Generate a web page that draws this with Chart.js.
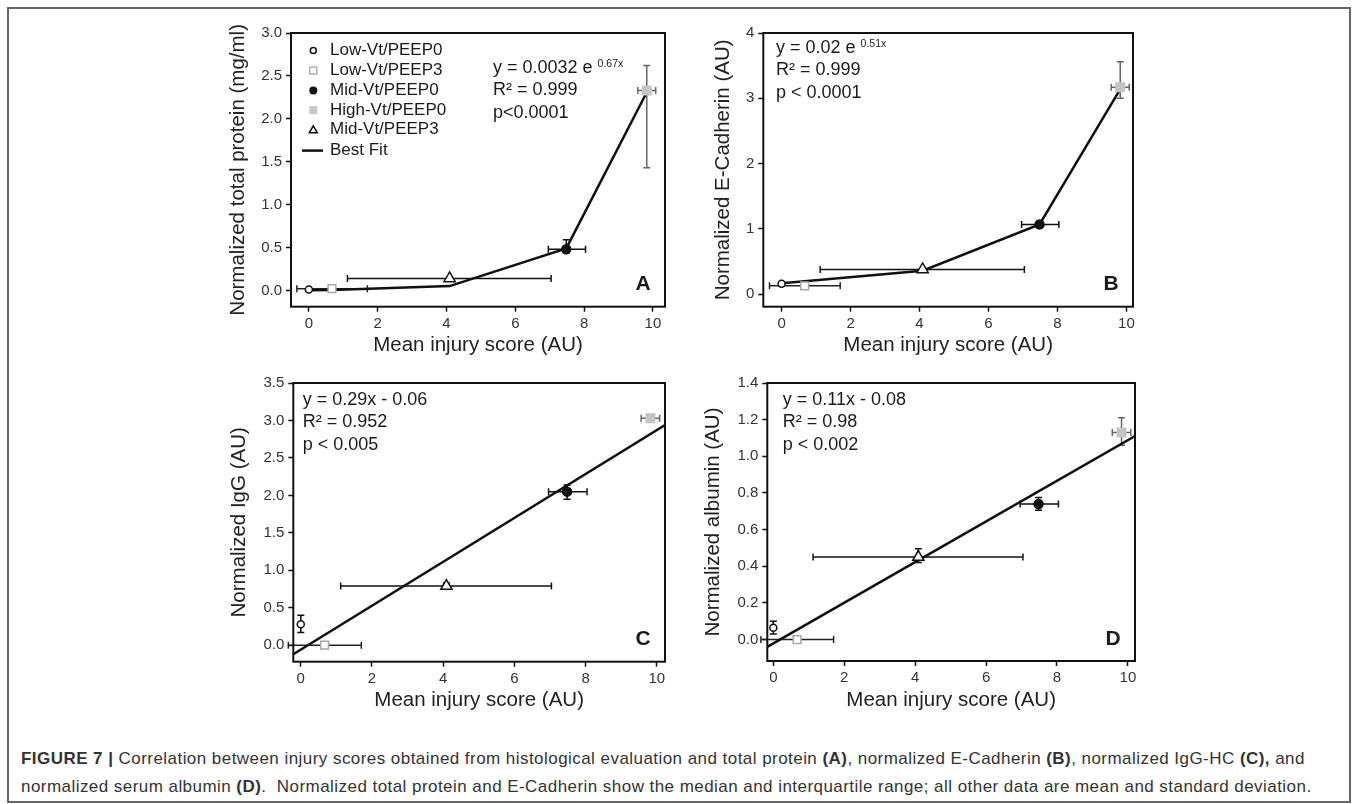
<!DOCTYPE html>
<html lang="en">
<head>
<meta charset="UTF-8">
<title>Figure 7 - injury score correlations</title>
<script src="https://cdn.jsdelivr.net/npm/chart.js"></script>
<style>
  body { margin: 0; background: #fff; font-family: Arial, "Liberation Sans", sans-serif; }
  #page { position: relative; width: 1357px; height: 804px; overflow: hidden; }
  #frame { position: absolute; left: 7px; top: 7px; width: 1340px; height: 792px; border: 2px solid #666; }
  canvas { position: absolute; }
  #caption { position: absolute; left: 21px; top: 745px; font-size: 17px; letter-spacing: 0.45px; line-height: 28px; color: #333; white-space: nowrap; }
</style>
</head>
<body>
<div id="page">
  <div id="frame"></div>
  <canvas id="panelA" width="456" height="340" style="left:224px;top:20px"></canvas>
  <canvas id="panelB" width="441" height="340" style="left:709px;top:20px"></canvas>
  <canvas id="panelC" width="455" height="345" style="left:225px;top:370px"></canvas>
  <canvas id="panelD" width="451" height="345" style="left:699px;top:370px"></canvas>
  <div id="caption">
    <div><b>FIGURE 7 |</b> Correlation between injury scores obtained from histological evaluation and total protein <b>(A)</b>, normalized E-Cadherin <b>(B)</b>, normalized IgG-HC <b>(C),</b> and</div>
    <div>normalized serum albumin <b>(D)</b>.&nbsp; Normalized total protein and E-Cadherin show the median and interquartile range; all other data are mean and standard deviation.</div>
  </div>
</div>

<script>
// groups, in legend order
const groups = ['Low-Vt/PEEP0', 'Low-Vt/PEEP3', 'Mid-Vt/PEEP0', 'High-Vt/PEEP0', 'Mid-Vt/PEEP3'];

// mean injury score per group and its spread (same for every panel)
const score     = [0, 0.67, 7.48, 9.82, 4.09];
const scoreLow  = [0, -0.35, 6.96, 9.56, 1.12];
const scoreHigh = [0, 1.70, 8.04, 10.08, 7.04];

const xTicks = [0, 2, 4, 6, 8, 10];

// A - total protein (median, IQR)
const proteinA     = [0.01, 0.02, 0.48, 2.33, 0.14];
const proteinLowA  = [0.01, 0.02, 0.44, 1.43, 0.14];
const proteinHighA = [0.01, 0.02, 0.59, 2.62, 0.14];
const fitXA = [0, 0.67, 4.09, 7.48, 9.82];
const fitYA = [0.003, 0.005, 0.05, 0.49, 2.31];
const yTicksA = [0, 0.5, 1.0, 1.5, 2.0, 2.5, 3.0];

// B - E-Cadherin (median, IQR)
const cadherinB     = [0.16, 0.13, 1.07, 3.17, 0.38];
const cadherinLowB  = [0.16, 0.13, 1.02, 3.00, 0.38];
const cadherinHighB = [0.16, 0.13, 1.12, 3.56, 0.38];
const fitXB = [0, 0.67, 4.09, 7.48, 9.82];
const fitYB = [0.17, 0.2, 0.36, 1.07, 3.14];
const yTicksB = [0, 1, 2, 3, 4];

// C - IgG (mean, SD)
const iggC     = [0.28, 0.0, 2.05, 3.03, 0.79];
const iggLowC  = [0.17, 0.0, 1.95, 2.99, 0.75];
const iggHighC = [0.40, 0.0, 2.14, 3.07, 0.83];
const fitXC = [-0.21, 10.23];
const fitYC = [-0.12, 2.94];
const yTicksC = [0, 0.5, 1.0, 1.5, 2.0, 2.5, 3.0, 3.5];

// D - albumin (mean, SD)
const albuminD     = [0.065, 0.0, 0.74, 1.13, 0.45];
const albuminLowD  = [0.03, -0.02, 0.705, 1.06, 0.42];
const albuminHighD = [0.10, 0.02, 0.775, 1.21, 0.495];
const fitXD = [-0.17, 10.2];
const fitYD = [-0.04, 1.11];
const yTicksD = [0, 0.2, 0.4, 0.6, 0.8, 1.0, 1.2, 1.4];

Chart.defaults.font.family = 'Arial, "Liberation Sans", sans-serif';

const groupStyle = [
  { pointStyle: 'circle',   radius: 3.5, bg: '#fff',    border: '#111',    err: '#111' },
  { pointStyle: 'rect',     radius: 5.5, bg: '#fff',    border: '#a8a8a8', err: '#222' },
  { pointStyle: 'circle',   radius: 4.5, bg: '#111',    border: '#111',    err: '#111' },
  { pointStyle: 'rect',     radius: 6,   bg: '#c4c4c4', border: '#c4c4c4', err: '#666' },
  { pointStyle: 'triangle', radius: 6.5, bg: '#fff',    border: '#111',    err: '#111' }
];

const panels = [
  { id: 'panelA', letter: 'A', box: { left: 224, top: 20, w: 456, h: 340 },
    area: { left: 291, top: 31.7, right: 665, bottom: 306.7 },
    xMin: -0.52, xMax: 10.35, yMin: -0.19, yMax: 3.0, yTicks: yTicksA, digits: 1,
    yTitle: 'Normalized total protein (mg/ml)',
    y: proteinA, yLow: proteinLowA, yHigh: proteinHighA, fitX: fitXA, fitY: fitYA,
    eq: [['y = 0.0032 e', '0.67x'], ['R\u00B2 = 0.999'], ['p<0.0001']], eqLeft: 202, eqTop: 35,
    legend: true },
  { id: 'panelB', letter: 'B', box: { left: 709, top: 20, w: 441, h: 340 },
    area: { left: 763.3, top: 31.7, right: 1133, bottom: 306.7 },
    xMin: -0.53, xMax: 10.19, yMin: -0.19, yMax: 4, yTicks: yTicksB, digits: 0,
    yTitle: 'Normalized E-Cadherin (AU)',
    y: cadherinB, yLow: cadherinLowB, yHigh: cadherinHighB, fitX: fitXB, fitY: fitYB,
    eq: [['y = 0.02 e', '0.51x'], ['R\u00B2 = 0.999'], ['p < 0.0001']], eqLeft: 12.7, eqTop: 15 },
  { id: 'panelC', letter: 'C', box: { left: 225, top: 370, w: 455, h: 345 },
    area: { left: 293.3, top: 382.7, right: 665, bottom: 661.7 },
    xMin: -0.21, xMax: 10.23, yMin: -0.22, yMax: 3.5, yTicks: yTicksC, digits: 1,
    yTitle: 'Normalized IgG (AU)',
    y: iggC, yLow: iggLowC, yHigh: iggHighC, fitX: fitXC, fitY: fitYC,
    eq: [['y = 0.29x - 0.06'], ['R\u00B2 = 0.952'], ['p < 0.005']], eqLeft: 9.4, eqTop: 16.6 },
  { id: 'panelD', letter: 'D', box: { left: 699, top: 370, w: 451, h: 345 },
    area: { left: 767.3, top: 382.7, right: 1135, bottom: 661 },
    xMin: -0.17, xMax: 10.2, yMin: -0.117, yMax: 1.4, yTicks: yTicksD, digits: 1,
    yTitle: 'Normalized albumin (AU)',
    y: albuminD, yLow: albuminLowD, yHigh: albuminHighD, fitX: fitXD, fitY: fitYD,
    eq: [['y = 0.11x - 0.08'], ['R\u00B2 = 0.98'], ['p < 0.002']], eqLeft: 15.4, eqTop: 16.6 }
];

function drawErrorBars(chart) {
  const { ctx, scales: { x, y } } = chart;
  const cap = 3.5;
  ctx.save();
  ctx.lineWidth = 1.5;
  chart.data.datasets.forEach(ds => {
    if (!ds.err) return;
    const e = ds.err;
    const px = x.getPixelForValue(ds.data[0].x);
    const py = y.getPixelForValue(ds.data[0].y);
    ctx.strokeStyle = ds.errColor;
    ctx.beginPath();
    if (e.xHigh > e.xLow) {
      const a = x.getPixelForValue(e.xLow), b = x.getPixelForValue(e.xHigh);
      ctx.moveTo(a, py); ctx.lineTo(b, py);
      ctx.moveTo(a, py - cap); ctx.lineTo(a, py + cap);
      ctx.moveTo(b, py - cap); ctx.lineTo(b, py + cap);
    }
    if (e.yHigh > e.yLow) {
      const a = y.getPixelForValue(e.yLow), b = y.getPixelForValue(e.yHigh);
      ctx.moveTo(px, a); ctx.lineTo(px, b);
      ctx.moveTo(px - cap, a); ctx.lineTo(px + cap, a);
      ctx.moveTo(px - cap, b); ctx.lineTo(px + cap, b);
    }
    ctx.stroke();
  });
  ctx.restore();
}

function drawLegend(ctx, area) {
  const mx = area.left + 22.3, tx = area.left + 39;
  const rows = [17.6, 37.6, 57.6, 77.2, 96.8, 117.6];
  ctx.save();
  ctx.lineWidth = 1.5;
  groups.forEach((g, i) => {
    const cy = area.top + rows[i];
    ctx.beginPath();
    if (i === 0) { ctx.arc(mx, cy, 3, 0, Math.PI * 2); ctx.strokeStyle = '#111'; ctx.stroke(); }
    if (i === 1) { ctx.strokeStyle = '#b0b0b0'; ctx.strokeRect(mx - 3.5, cy - 3.5, 7, 7); }
    if (i === 2) { ctx.arc(mx, cy, 4, 0, Math.PI * 2); ctx.fillStyle = '#111'; ctx.fill(); }
    if (i === 3) { ctx.fillStyle = '#c8c8c8'; ctx.fillRect(mx - 4, cy - 4, 8, 8); }
    if (i === 4) {
      ctx.moveTo(mx, cy - 4); ctx.lineTo(mx + 4, cy + 3); ctx.lineTo(mx - 4, cy + 3); ctx.closePath();
      ctx.strokeStyle = '#111'; ctx.stroke();
    }
    ctx.fillStyle = '#1a1a1a';
    ctx.font = '17px Arial, "Liberation Sans", sans-serif';
    ctx.textBaseline = 'middle';
    ctx.fillText(g, tx, cy);
  });
  const ly = area.top + rows[5];
  ctx.beginPath();
  ctx.moveTo(area.left + 11, ly); ctx.lineTo(area.left + 32, ly);
  ctx.lineWidth = 2.5; ctx.strokeStyle = '#111'; ctx.stroke();
  ctx.fillText('Best Fit', tx, ly);
  ctx.restore();
}

function extrasPlugin(p) {
  return {
    id: 'extras',
    beforeDatasetsDraw(chart) { drawErrorBars(chart); },
    afterDraw(chart) {
      const { ctx, chartArea: a } = chart;
      ctx.save();
      // plot frame
      ctx.lineWidth = 2; ctx.strokeStyle = '#111';
      ctx.strokeRect(a.left, a.top, a.right - a.left, a.bottom - a.top);
      // fit equation
      ctx.fillStyle = '#1a1a1a';
      ctx.textBaseline = 'middle';
      p.eq.forEach((line, i) => {
        const y = a.top + p.eqTop + i * 22.5;
        ctx.font = '18px Arial, "Liberation Sans", sans-serif';
        ctx.fillText(line[0], a.left + p.eqLeft, y);
        if (line[1]) {
          const w = ctx.measureText(line[0]).width;
          ctx.font = '10.5px Arial, "Liberation Sans", sans-serif';
          ctx.fillText(line[1], a.left + p.eqLeft + w + 5, y - 4);
        }
      });
      // panel letter
      ctx.font = 'bold 21px Arial, "Liberation Sans", sans-serif';
      ctx.textAlign = 'center';
      ctx.fillText(p.letter, a.right - 22, a.bottom - 22);
      ctx.restore();
      if (p.legend) drawLegend(ctx, a);
    }
  };
}

panels.forEach(p => {
  const datasets = groups.map((g, i) => ({
    label: g,
    data: [{ x: score[i], y: p.y[i] }],
    pointStyle: groupStyle[i].pointStyle,
    pointRadius: groupStyle[i].radius,
    pointBackgroundColor: groupStyle[i].bg,
    pointBorderColor: groupStyle[i].border,
    pointBorderWidth: 1.5,
    err: { xLow: scoreLow[i], xHigh: scoreHigh[i], yLow: p.yLow[i], yHigh: p.yHigh[i] },
    errColor: groupStyle[i].err
  }));
  datasets.push({
    label: 'Best Fit',
    data: p.fitX.map((x, i) => ({ x: x, y: p.fitY[i] })),
    showLine: true,
    pointRadius: 0,
    borderColor: '#111',
    borderWidth: 2.5
  });

  const b = p.box, a = p.area;
  new Chart(document.getElementById(p.id), {
    type: 'scatter',
    data: { datasets: datasets },
    options: {
      responsive: false,
      animation: false,
      events: [],
      layout: { padding: { top: a.top - b.top, right: b.left + b.w - a.right, left: 0, bottom: 0 } },
      plugins: { legend: { display: false }, tooltip: { enabled: false } },
      scales: {
        x: {
          type: 'linear', position: 'bottom', min: p.xMin, max: p.xMax,
          afterBuildTicks: s => { s.ticks = xTicks.map(v => ({ value: v })); },
          afterFit: s => { s.height = b.top + b.h - a.bottom; },
          ticks: { font: { size: 15 }, color: '#333', padding: 3, maxRotation: 0, callback: v => String(v) },
          grid: { drawOnChartArea: false, drawTicks: true, tickLength: 5, tickWidth: 1.5, tickColor: '#111' },
          border: { display: false },
          title: { display: true, text: 'Mean injury score (AU)', color: '#222', font: { size: 20.5 }, padding: { top: 0, bottom: 2.7 } }
        },
        y: {
          type: 'linear', position: 'left', min: p.yMin, max: p.yMax,
          afterBuildTicks: s => { s.ticks = p.yTicks.map(v => ({ value: v })); },
          afterFit: s => { s.width = a.left - b.left; },
          ticks: { font: { size: 15 }, color: '#333', padding: 4, callback: v => v.toFixed(p.digits) },
          grid: { drawOnChartArea: false, drawTicks: true, tickLength: 5, tickWidth: 1.5, tickColor: '#111' },
          border: { display: false },
          title: { display: true, text: p.yTitle, color: '#222', font: { size: 20.5 }, padding: { top: 2, bottom: 0 } }
        }
      }
    },
    plugins: [extrasPlugin(p)]
  });
});
</script>
</body>
</html>
